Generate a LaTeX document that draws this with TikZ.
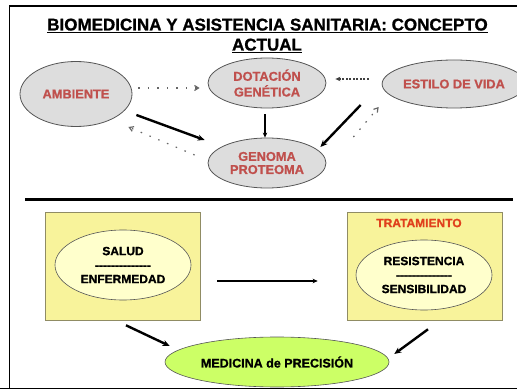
\documentclass[tikz,border=0pt]{standalone}
\usepackage{fontspec}
\setmainfont{Liberation Sans}[Ligatures=TeXOff,BoldFeatures={FakeBold=1}]
\usetikzlibrary{shapes.geometric,arrows.meta,calc}
\definecolor{grayfill}{HTML}{DDDDDD}
\definecolor{redtxt}{HTML}{C0504D}
\definecolor{boxyellow}{HTML}{F8F39B}
\definecolor{ellyellow}{HTML}{FFFFCC}
\definecolor{limegreen}{HTML}{CCFF66}
\definecolor{tratred}{HTML}{E0401C}
\definecolor{edgegray}{HTML}{555555}
\begin{document}
\begin{tikzpicture}[x=1pt,y=-1pt,
  grayell/.style={ellipse,draw=edgegray,line width=0.8pt,fill=grayfill,inner sep=0pt,
    text=redtxt,font=\fontsize{12.8}{15.7}\selectfont\bfseries,align=center},
  yelbox/.style={rectangle,draw=gray!70!olive,line width=0.6pt,fill=boxyellow,inner sep=0pt},
  yelell/.style={ellipse,draw=edgegray,line width=0.6pt,fill=ellyellow,inner sep=0pt,
    font=\fontsize{12}{15}\selectfont\bfseries,align=center},
  greenell/.style={ellipse,draw=edgegray,line width=0.6pt,fill=limegreen,inner sep=0pt,
    font=\fontsize{12.5}{15}\selectfont\bfseries},
  thickarr/.style={line width=2.4pt,-{Stealth[length=7pt,width=6pt]}},
  thinarr/.style={line width=1.2pt,-{Stealth[length=5pt,width=4.5pt]}},
  dotarr/.style={line width=1.2pt,gray!80!black,dash pattern=on 1.5pt off 8pt,-{Straight Barb[length=4pt,width=5pt]}},
  densearr/.style={line width=1.2pt,black!75,dash pattern=on 2pt off 1.5pt,-{Stealth[length=5pt,width=4.5pt]}},
  title/.style={font=\fontsize{17}{20}\selectfont\bfseries,inner sep=0pt,anchor=base}
]
\useasboundingbox (0,0) rectangle (517,390);
% frame
\draw[line width=1.6pt] (9.5,389) -- (9.5,6) -- (520,6);
\draw[line width=1.4pt] (0,388.5) -- (520,388.5);
% title
\node[title] (t1) at (267.5,30.5) {BIOMEDICINA Y ASISTENCIA SANITARIA: CONCEPTO};
\node[title] (t2) at (267,50.5) {ACTUAL};
\draw[line width=1.5pt] (47,32.5) -- (488,32.5);
\draw[line width=1.5pt] (232,52.5) -- (302,52.5);
% upper nodes
\node[grayell,minimum width=112pt,minimum height=65pt] (amb) at (76,94) {AMBIENTE};
\node[grayell,minimum width=118pt,minimum height=50pt] (dot) at (267,83) {DOTACIÓN\\GENÉTICA};
\node[grayell,minimum width=122pt,minimum height=48pt] (est) at (454,84) {ESTILO DE VIDA};
\node[grayell,minimum width=118pt,minimum height=50pt] (gen) at (267,163) {\raisebox{-2pt}{\shortstack{GENOMA\\[1pt]PROTEOMA}}};
% upper connectors
\draw[dotarr] ($(amb.east)+(6,-6)$) -- ($(dot.west)+(-8,5)$);
\draw[densearr] ($(est.west)+(-13,-5)$) -- ($(dot.east)+(9,-4)$);
\draw[thickarr] ($(amb.east)+(4,21)$) -- ($(gen.west)+(-3,-23)$);
\draw[dotarr] ($(gen.west)+(-13,-8)$) -- ($(amb.east)+(-4,33)$);
\draw[thinarr] ($(dot.south)+(-2,6)$) -- ($(gen.north)+(-2,0)$);
\draw[thickarr] ($(est.west)+(-21,21)$) -- ($(gen.east)+(-6,-16)$);
\draw[dotarr] ($(gen.east)+(27,-26)$) -- ($(est.west)+(-3,23)$);
% separator
\draw[line width=3pt] (25,199.5) -- (513,199.5);
% lower boxes
\node[yelbox,minimum width=155pt,minimum height=108pt] (box1) at (122.5,266) {};
\node[yelbox,minimum width=155pt,minimum height=108pt] (box2) at (424.5,266) {};
\node[yelell,minimum width=136pt,minimum height=70pt] (ell1) at (123,265) {SALUD\\[-1pt]--------------\\[-1pt]ENFERMEDAD};
\node[yelell,minimum width=136pt,minimum height=70pt] (ell2) at (424,275) {RESISTENCIA\\[-1pt]--------------\\[-1pt]SENSIBILIDAD};
\node[font=\fontsize{12}{14}\selectfont\bfseries,text=tratred,inner sep=0pt] (trat) at (419,223) {TRATAMIENTO};
\node[greenell,minimum width=224pt,minimum height=50pt] (med) at (277,362) {MEDICINA de PRECISIÓN};
% lower connectors
\draw[thinarr] ($(box1.east)+(17,15)$) -- ($(box2.west)+(-29,15)$);
\draw[thickarr] ($(box1.south)+(3.5,5)$) -- ($(med.west)+(5,-16)$);
\draw[thickarr] ($(box2.south)+(3.5,9)$) -- ($(med.east)+(5,-8)$);
\end{tikzpicture}
\end{document}
